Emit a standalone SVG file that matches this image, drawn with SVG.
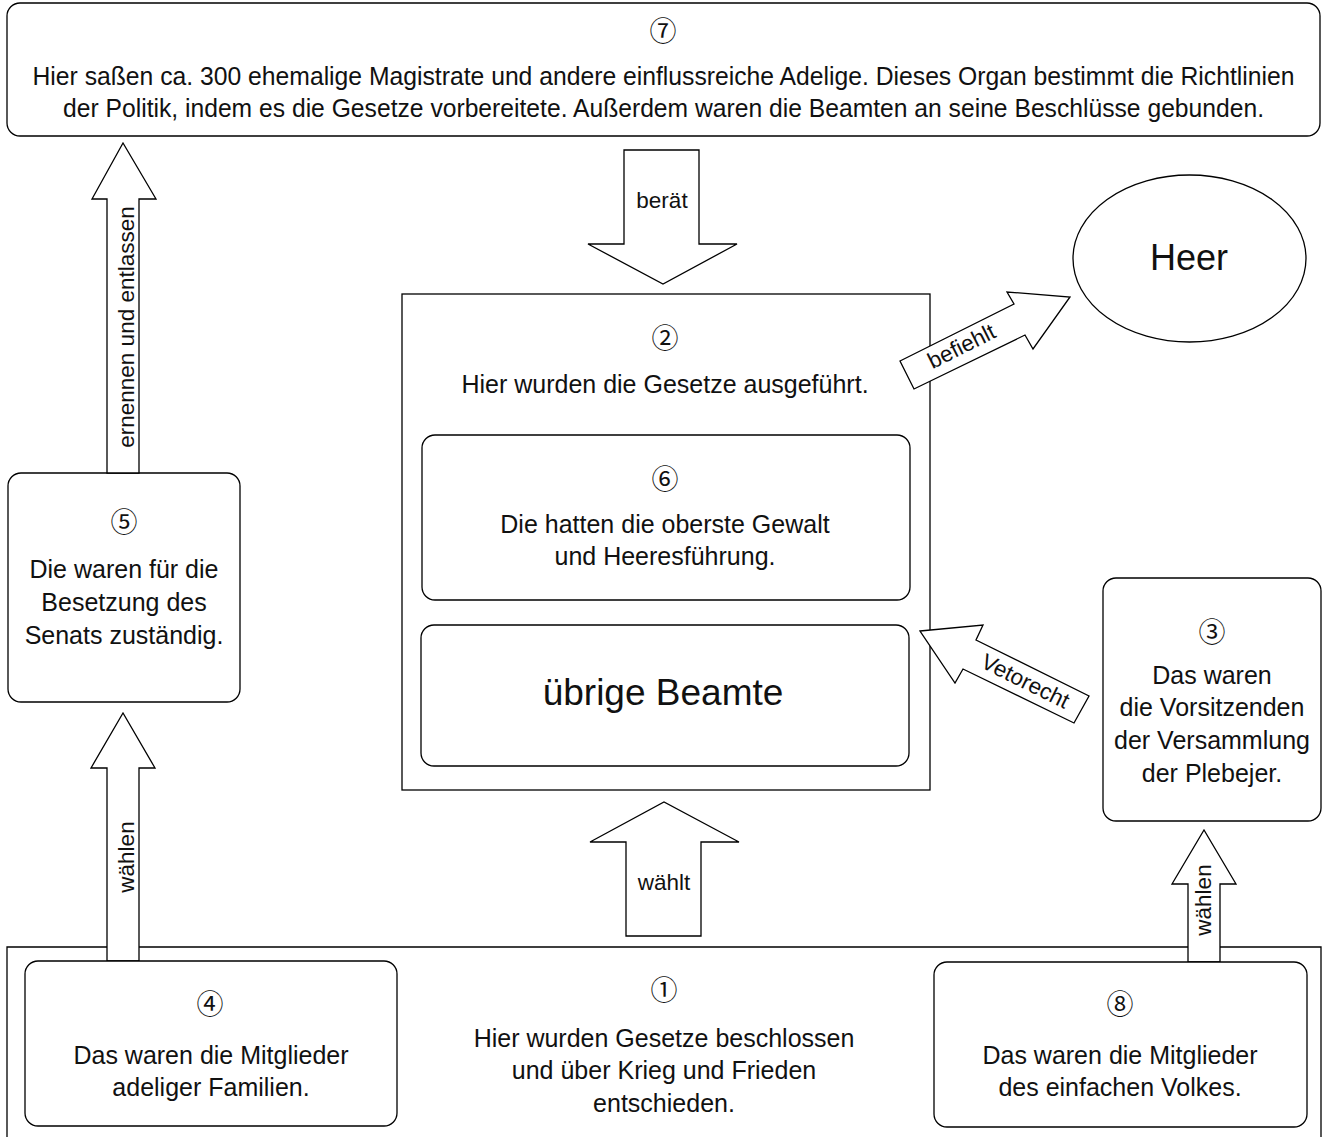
<svg xmlns="http://www.w3.org/2000/svg" width="1323" height="1137" viewBox="0 0 1323 1137">
<style>
  .box { fill: #fff; stroke: #000; stroke-width: 1.3; }
  .arr { fill: #fff; stroke: #000; stroke-width: 1.3; stroke-linejoin: miter; }
  .t { font-family: "Liberation Sans", Arial, sans-serif; font-size: 25px; fill: #111; text-anchor: middle; }
  .lbl { font-family: "Liberation Sans", Arial, sans-serif; font-size: 22.5px; fill: #111; text-anchor: middle; }
  .big { font-family: "Liberation Sans", Arial, sans-serif; font-size: 37px; fill: #111; text-anchor: middle; }
  .num { font-family: "Noto Sans CJK JP", "DejaVu Sans", sans-serif; font-size: 27px; fill: #111; text-anchor: middle; }
</style>
<rect width="1323" height="1137" fill="#fff"/>

<g id="node7">
  <rect class="box" x="7" y="3" width="1313" height="133" rx="13"/>
  <text class="num" x="663" y="41">⑦</text>
  <text class="t" x="663.5" y="85" textLength="1262" lengthAdjust="spacingAndGlyphs">Hier saßen ca. 300 ehemalige Magistrate und andere einflussreiche Adelige. Dieses Organ bestimmt die Richtlinien</text>
  <text class="t" x="663.5" y="117" textLength="1201" lengthAdjust="spacingAndGlyphs">der Politik, indem es die Gesetze vorbereitete. Außerdem waren die Beamten an seine Beschlüsse gebunden.</text>
</g>

<g id="node2">
  <rect class="box" x="402" y="294" width="528" height="496"/>
  <text class="num" x="665" y="348">②</text>
  <text class="t" x="665" y="393">Hier wurden die Gesetze ausgeführt.</text>
</g>

<g id="node6">
  <rect class="box" x="422" y="435" width="488" height="165" rx="13"/>
  <text class="num" x="665" y="489">⑥</text>
  <text class="t" x="665" y="533">Die hatten die oberste Gewalt</text>
  <text class="t" x="665" y="565">und Heeresführung.</text>
</g>

<g id="beamte">
  <rect class="box" x="421" y="625" width="488" height="141" rx="13"/>
  <text class="big" x="663" y="705">übrige Beamte</text>
</g>

<g id="heer">
  <ellipse class="box" cx="1189.5" cy="258.5" rx="116.5" ry="83.5"/>
  <text class="big" x="1189" y="270" style="font-size:36px">Heer</text>
</g>

<g id="node5">
  <rect class="box" x="8" y="473" width="232" height="229" rx="13"/>
  <text class="num" x="124" y="532">⑤</text>
  <text class="t" x="124" y="578">Die waren für die</text>
  <text class="t" x="124" y="611">Besetzung des</text>
  <text class="t" x="124" y="644">Senats zuständig.</text>
</g>

<g id="node3">
  <rect class="box" x="1103" y="578" width="218" height="243" rx="13"/>
  <text class="num" x="1212" y="642">③</text>
  <text class="t" x="1212" y="684">Das waren</text>
  <text class="t" x="1212" y="716">die Vorsitzenden</text>
  <text class="t" x="1212" y="749">der Versammlung</text>
  <text class="t" x="1212" y="782">der Plebejer.</text>
</g>

<g id="node1">
  <path class="box" d="M7,1137 V947 H1321 V1137"/>
  <text class="num" x="664" y="1000">①</text>
  <text class="t" x="664" y="1047">Hier wurden Gesetze beschlossen</text>
  <text class="t" x="664" y="1079">und über Krieg und Frieden</text>
  <text class="t" x="664" y="1112">entschieden.</text>
</g>

<g id="connectors">
  <polygon class="arr" points="107,473 107,199 92,199 123,143 156,199 139,199 139,473"/>
  <text class="lbl" transform="translate(134,327) rotate(-90)">ernennen und entlassen</text>

  <polygon class="arr" points="107,961 107,768 91,768 123,713 155,768 139,768 139,961"/>
  <text class="lbl" transform="translate(134,857) rotate(-90)">wählen</text>

  <polygon class="arr" points="1188,962 1188,884 1172,884 1204,830 1236,884 1220,884 1220,962"/>
  <text class="lbl" transform="translate(1211,900) rotate(-90)">wählen</text>

  <polygon class="arr" points="624,150 699,150 699,244 737,244 663,284 588,244 624,244"/>
  <text class="lbl" x="662" y="208">berät</text>

  <polygon class="arr" points="626,936 626,842 590,842 664,802 739,842 701,842 701,936"/>
  <text class="lbl" x="664" y="890">wählt</text>

  <polygon class="arr" points="900,361 1014,304 1007,292 1070,297 1033,349 1025,335 914,389"/>
  <text class="lbl" transform="translate(965,353) rotate(-26.6)">befiehlt</text>

  <polygon class="arr" points="920,631 983,625 976,640 1089,696 1074,723 963,669 955,683"/>
  <text class="lbl" transform="translate(1022,688) rotate(26.4)">Vetorecht</text>
</g>

<g id="node4">
  <rect class="box" x="25" y="961" width="372" height="165" rx="13"/>
  <text class="num" x="210" y="1014">④</text>
  <text class="t" x="211" y="1064">Das waren die Mitglieder</text>
  <text class="t" x="211" y="1096">adeliger Familien.</text>
</g>

<g id="node8">
  <rect class="box" x="934" y="962" width="373" height="165" rx="13"/>
  <text class="num" x="1120" y="1014">⑧</text>
  <text class="t" x="1120" y="1064">Das waren die Mitglieder</text>
  <text class="t" x="1120" y="1096">des einfachen Volkes.</text>
</g>
</svg>
